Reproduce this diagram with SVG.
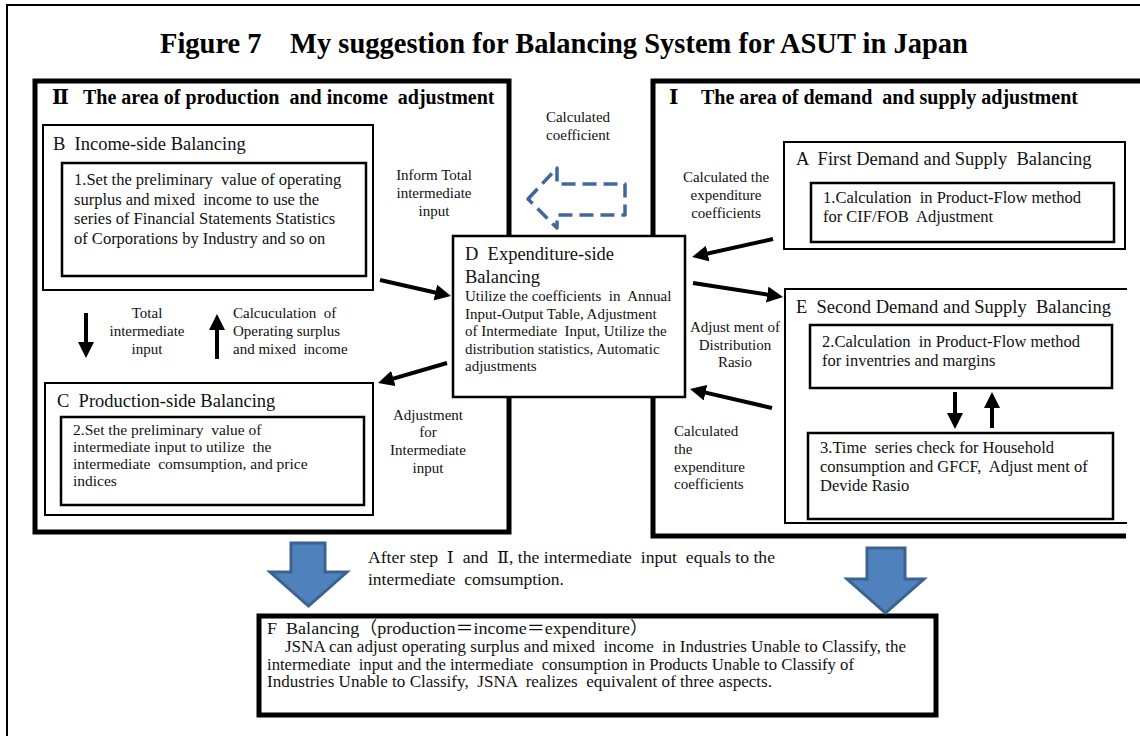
<svg xmlns="http://www.w3.org/2000/svg" width="1140" height="736" viewBox="0 0 1140 736" xml:space="preserve">
<defs>
<style>
text{font-family:"Liberation Serif","Noto Sans CJK JP",serif;fill:#111;white-space:pre}
.title{font-size:28.5px;font-weight:bold;fill:#000}
.head{font-size:20px;font-weight:bold;fill:#000}
.rn{font-family:"DejaVu Serif","Liberation Serif","Noto Sans CJK JP",serif}
.bt{font-size:18.5px}
.in{font-size:16.5px}
.in2{font-size:15.5px}
.db{font-size:15px}
.lb{font-size:15px}
.c{text-anchor:middle}
.area{fill:none;stroke:#000;stroke-width:5}
.box{fill:#fff;stroke:#000;stroke-width:2}
.inner{fill:#fff;stroke:#000;stroke-width:2.5}
.arr{fill:none;stroke:#000;stroke-width:4;marker-end:url(#ah)}
.blk{fill:#4F81BD;stroke:#3A6391;stroke-width:3;stroke-linejoin:miter}
</style>
<marker id="ah" viewBox="0 0 10 10" refX="6.25" refY="5" markerWidth="4" markerHeight="4" orient="auto">
<polygon points="0,0 10,5 0,10" fill="#000"/>
</marker>
</defs>
<rect width="1140" height="736" fill="#fff"/>
<rect id="frame" x="7" y="5" width="1150" height="760" fill="none" stroke="#000" stroke-width="2"/>
<text id="title" class="title" x="160" y="53">Figure 7　My suggestion for Balancing System for ASUT in Japan</text>

<g id="areaII">
<rect class="area" x="35" y="81" width="474" height="451"/>
<text class="head rn" x="52" y="104">Ⅱ</text>
<text class="head" x="83" y="104">The area of production  and income  adjustment</text>
</g>
<g id="areaI">
<path class="area" d="M1145,81 H653 V536 H1126"/>
<text class="head rn" x="669" y="104">Ⅰ</text>
<text class="head" x="701" y="104">The area of demand  and supply adjustment</text>
</g>

<g id="nodeB">
<rect class="box" x="43" y="125" width="330" height="165"/>
<text class="bt" x="53" y="150">B  Income-side Balancing</text>
</g>
<g id="node1">
<rect class="inner" x="62" y="163" width="304" height="113"/>
<text class="in" x="74" y="185">1.Set the preliminary  value of operating</text>
<text class="in" x="74" y="204.5">surplus and mixed  income to use the</text>
<text class="in" x="74" y="224">series of Financial Statements Statistics</text>
<text class="in" x="74" y="243.5">of Corporations by Industry and so on</text>
</g>

<g id="nodeC">
<rect class="box" x="45" y="383" width="328" height="132"/>
<text class="bt" x="57" y="407">C  Production-side Balancing</text>
</g>
<g id="node2">
<rect class="inner" x="61" y="417" width="303" height="88"/>
<text class="in2" x="73" y="434.5">2.Set the preliminary  value of</text>
<text class="in2" x="73" y="451.5">intermediate input to utilize  the</text>
<text class="in2" x="73" y="468.5">intermediate  comsumption, and price</text>
<text class="in2" x="73" y="485.5">indices</text>
</g>

<g id="nodeA">
<rect class="box" x="784" y="142" width="341" height="107"/>
<text class="bt" x="796" y="165">A  First Demand and Supply  Balancing</text>
</g>
<g id="nodeA1">
<rect class="inner" x="811" y="183" width="303" height="59"/>
<text class="in" x="823" y="203">1.Calculation  in Product-Flow method</text>
<text class="in" x="823" y="222">for CIF/FOB  Adjustment</text>
</g>

<g id="nodeE">
<path d="M1127,289 H785 V523 H1127" fill="none" stroke="#000" stroke-width="2"/>
<text class="bt" x="796" y="313">E  Second Demand and Supply  Balancing</text>
</g>
<g id="nodeE2">
<rect class="inner" x="810" y="325" width="302" height="63"/>
<text class="in" x="822" y="347">2.Calculation  in Product-Flow method</text>
<text class="in" x="822" y="366">for inventries and margins</text>
</g>
<g id="nodeE3">
<rect class="inner" x="808" y="433" width="305" height="86"/>
<text class="in" x="820" y="453">3.Time  series check for Household</text>
<text class="in" x="820" y="472">consumption and GFCF,  Adjust ment of</text>
<text class="in" x="820" y="491">Devide Rasio</text>
</g>

<g id="nodeD">
<rect x="453" y="236" width="232" height="161" fill="#fff" stroke="#000" stroke-width="2.5"/>
<text class="bt" x="465" y="260">D  Expenditure-side</text>
<text class="bt" x="465" y="283">Balancing</text>
<text class="db" x="465" y="301">Utilize the coefficients  in  Annual</text>
<text class="db" x="465" y="318.5">Input-Output Table, Adjustment</text>
<text class="db" x="465" y="336">of Intermediate  Input, Utilize the</text>
<text class="db" x="465" y="353.5">distribution statistics, Automatic</text>
<text class="db" x="465" y="371">adjustments</text>
</g>

<g id="nodeF">
<rect x="259" y="616" width="677" height="99" fill="#fff" stroke="#000" stroke-width="5"/>
<text x="267" y="634" font-size="17.5" textLength="381" lengthAdjust="spacingAndGlyphs">F  Balancing（production＝income＝expenditure）</text>
<text x="285" y="652" font-size="17" textLength="621" lengthAdjust="spacingAndGlyphs">JSNA can adjust operating surplus and mixed  income  in Industries Unable to Classify, the</text>
<text x="267" y="669.5" font-size="17" textLength="587" lengthAdjust="spacingAndGlyphs">intermediate  input and the intermediate  consumption in Products Unable to Classify of</text>
<text x="267" y="687" font-size="17" textLength="505" lengthAdjust="spacingAndGlyphs">Industries Unable to Classify,  JSNA  realizes  equivalent of three aspects.</text>
</g>

<g id="connectors">
<path class="arr" d="M380,280 L445.1,294.7"/>
<path class="arr" d="M447,363 L383.8,381.3"/>
<path class="arr" d="M773,239 L697.9,255.7"/>
<path class="arr" d="M693,283 L777.1,296.1"/>
<path class="arr" d="M772,408 L695.8,390.4"/>
<path class="arr" d="M86,313 V352"/>
<path class="arr" d="M217,359 V320"/>
<path class="arr" d="M955,392 V423"/>
<path class="arr" d="M992,428 V398"/>
<path d="M528,199 L557,168 V184 H625 V215 H557 V228 Z" fill="none" stroke="#41689C" stroke-width="3.5" stroke-dasharray="14 7" stroke-linejoin="round"/>
<polygon class="blk" points="291,543 325,543 325,572 347,572 308.5,606 270,572 291,572"/>
<polygon class="blk" points="867,548 905,548 905,579 924,579 885.5,613 847,579 867,579"/>
</g>

<g id="labels">
<text class="lb c" x="578" y="122">Calculated</text>
<text class="lb c" x="578" y="140">coefficient</text>
<text class="lb c" x="434" y="180">Inform Total</text>
<text class="lb c" x="434" y="198">intermediate</text>
<text class="lb c" x="434" y="216">input</text>
<text class="lb c" x="726" y="182">Calculated the</text>
<text class="lb c" x="726" y="200">expenditure</text>
<text class="lb c" x="726" y="218">coefficients</text>
<text class="lb c" x="735" y="332">Adjust ment of</text>
<text class="lb c" x="735" y="350">Distribution</text>
<text class="lb c" x="735" y="367">Rasio</text>
<text class="lb" x="674" y="436">Calculated</text>
<text class="lb" x="674" y="454">the</text>
<text class="lb" x="674" y="471.5">expenditure</text>
<text class="lb" x="674" y="489">coefficients</text>
<text class="lb c" x="147" y="318">Total</text>
<text class="lb c" x="147" y="336">intermediate</text>
<text class="lb c" x="147" y="354">input</text>
<text class="lb" x="233" y="318">Calcuculation  of</text>
<text class="lb" x="233" y="336">Operating surplus</text>
<text class="lb" x="233" y="354">and mixed  income</text>
<text class="lb c" x="428" y="420">Adjustment</text>
<text class="lb c" x="428" y="437">for</text>
<text class="lb c" x="428" y="455">Intermediate</text>
<text class="lb c" x="428" y="473">input</text>
<text x="368" y="563" font-size="17.5" textLength="407" lengthAdjust="spacingAndGlyphs">After step  <tspan class="rn">Ⅰ</tspan>  and  <tspan class="rn">Ⅱ</tspan>, the intermediate  input  equals to the</text>
<text x="368" y="585" font-size="17.5">intermediate  comsumption.</text>
</g>
</svg>
